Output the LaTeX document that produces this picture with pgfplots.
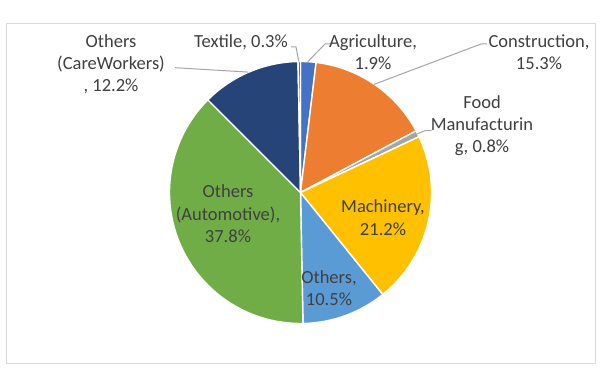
\documentclass[border=0pt]{standalone}
\usepackage{pgfplots}
\pgfplotsset{compat=1.18}
\usepackage{fontspec}
\setmainfont{Carlito}
\definecolor{cAgri}{HTML}{4472C4}
\definecolor{cCons}{HTML}{ED7D31}
\definecolor{cFood}{HTML}{A5A5A5}
\definecolor{cMach}{HTML}{FFC000}
\definecolor{cOth}{HTML}{5B9BD5}
\definecolor{cAuto}{HTML}{70AD47}
\definecolor{cCare}{HTML}{264478}
\definecolor{cText}{HTML}{9E480E}
\definecolor{labgray}{HTML}{404040}
\definecolor{leadgray}{HTML}{A6A6A6}
\definecolor{framegray}{HTML}{D9D9D9}
% pie geometry (px units, y up)
\def\cx{300.5}
\def\cy{193.5}
\def\rr{131}
% slice between cumulative percentages #1 and #2
\newcommand{\slice}[3]{%
  \addplot[fill=#3, draw=white, line width=0.7pt, line join=round,
    domain={90-3.6*#1}:{90-3.6*#2}, samples=120, variable=\t]
    ({\cx+\rr*cos(\t)},{\cy+\rr*sin(\t)}) -- (\cx,\cy) -- cycle;}
\newcommand{\lab}[3]{\node[anchor=base, inner sep=0pt, text=labgray,
  font=\fontsize{9.25}{11}\selectfont] at (#1,#2) {#3};}
\begin{document}
\begin{tikzpicture}
\fill[white] (0,0) rectangle (300pt,193pt);
\begin{axis}[
  width=300pt, height=193pt, scale only axis,
  xmin=0, xmax=600, ymin=0, ymax=386,
  hide axis, clip=false]
% values (percent): Agriculture 1.9, Construction 15.3, Food Manufacturing 0.8,
% Machinery 21.2, Others 10.5, Others (Automotive) 37.8, Others (CareWorkers) 12.2, Textile 0.3
\draw[framegray, line width=0.5pt] (6,362) rectangle (595.5,23);
\slice{0}{1.9}{cAgri}
\slice{1.9}{17.2}{cCons}
\slice{17.2}{18.0}{cFood}
\slice{18.0}{39.2}{cMach}
\slice{39.2}{49.7}{cOth}
\slice{49.7}{87.5}{cAuto}
\slice{87.5}{99.7}{cCare}
\slice{99.7}{100}{cText}
% leader lines
\draw[leadgray, line width=0.5pt] (291,339) -- (296,339) -- (298.8,324.5);
\draw[leadgray, line width=0.5pt] (332,342) -- (325,342) -- (307.8,324.3);
\draw[leadgray, line width=0.5pt] (487,342) -- (481,342) -- (374,301.6);
\draw[leadgray, line width=0.5pt] (431.7,255.3) -- (425,255.3) -- (417.5,252.2);
\draw[leadgray, line width=0.5pt] (175,318.3) -- (248.3,313.9);
% labels
\lab{111}{338}{Others}
\lab{111}{316}{(CareWorkers)}
\lab{111}{294}{, 12.2\%}
\lab{241}{338}{Textile, 0.3\%}
\lab{373}{338}{Agriculture,}
\lab{373}{316}{1.9\%}
\lab{539}{338}{Construction,}
\lab{539}{316}{15.3\%}
\lab{482}{277}{Food}
\lab{482}{255}{Manufacturin}
\lab{482}{233}{g, 0.8\%}
\lab{228}{188}{Others}
\lab{228}{165}{(Automotive),}
\lab{228}{143}{37.8\%}
\lab{383}{173}{Machinery,}
\lab{383}{150}{21.2\%}
\lab{329}{103}{Others,}
\lab{329}{81}{10.5\%}
\path (0,0) rectangle (600,386);
\end{axis}
\end{tikzpicture}
\end{document}
